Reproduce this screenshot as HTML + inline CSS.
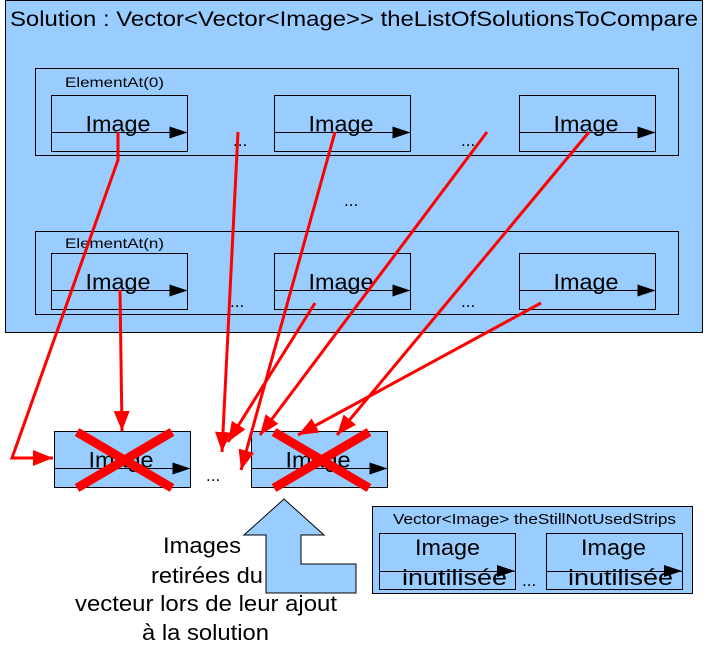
<!DOCTYPE html>
<html><head><meta charset="utf-8"><style>body{margin:0;background:#fff}svg{display:block}text{font-family:"Liberation Sans",sans-serif;fill:#000}</style></head><body>
<svg width="707" height="655" viewBox="0 0 707 655" xmlns="http://www.w3.org/2000/svg">
<defs>
<marker id="rd" markerWidth="22" markerHeight="16" refX="20" refY="8" orient="auto" markerUnits="userSpaceOnUse"><path d="M0,0 L20,8 L0,16 z" fill="#f00"/></marker>
<g id="img">
<rect x="0" y="0" width="136" height="56" fill="#99ccff" stroke="#000" stroke-width="1"/>
<line x1="0" y1="37" x2="136" y2="37" stroke="#000"/>
<path d="M118,31 L136,37 L118,43 z" fill="#000"/>
<text x="34" y="36" font-size="22" textLength="65" lengthAdjust="spacingAndGlyphs">Image</text>
</g>
</defs>
<rect x="5.5" y="0.5" width="697" height="332" fill="#99ccff" stroke="#000"/>
<text x="10" y="26" font-size="21" textLength="688" lengthAdjust="spacingAndGlyphs">Solution : Vector&lt;Vector&lt;Image&gt;&gt; theListOfSolutionsToCompare</text>
<rect x="35.5" y="68.5" width="643" height="87" fill="none" stroke="#000"/>
<text x="65" y="87" font-size="14" textLength="99" lengthAdjust="spacingAndGlyphs">ElementAt(0)</text>
<use href="#img" x="51.5" y="95.5"/><use href="#img" x="274.5" y="95.5"/><use href="#img" x="519.5" y="95.5"/>
<text x="233" y="146" font-size="17">...</text><text x="461" y="146" font-size="17">...</text>
<text x="344" y="206" font-size="17">...</text>
<rect x="35.5" y="231.5" width="643" height="83" fill="none" stroke="#000"/>
<text x="65" y="248" font-size="14" textLength="99" lengthAdjust="spacingAndGlyphs">ElementAt(n)</text>
<use href="#img" x="51.5" y="253.5"/><use href="#img" x="274.5" y="253.5"/><use href="#img" x="519.5" y="253.5"/>
<text x="230" y="307" font-size="17">...</text><text x="461" y="307" font-size="17">...</text>

<use href="#img" x="54.5" y="431.5"/><use href="#img" x="251.5" y="431.5"/>
<text x="206" y="481" font-size="17">...</text>
<g stroke="#f00" stroke-width="9">
<line x1="77" y1="432" x2="172" y2="488"/><line x1="172" y1="432" x2="77" y2="488"/>
<line x1="274" y1="432" x2="369" y2="488"/><line x1="369" y1="432" x2="274" y2="488"/>
</g>
<g stroke="#f00" stroke-width="3" fill="none" marker-end="url(#rd)">
<polyline points="118,132 118,160 12,458 53,458"/>
<line x1="120" y1="290" x2="122" y2="431"/>
<line x1="238" y1="132" x2="222" y2="452"/>
<line x1="335" y1="132" x2="241" y2="470"/>
<line x1="315" y1="303" x2="228" y2="442"/>
<line x1="487" y1="132" x2="260" y2="435"/>
<line x1="541" y1="303" x2="298" y2="435"/>
<line x1="589" y1="132" x2="337" y2="435"/>
</g>

<polygon points="284,499 324,535 301,535 301,564 356,564 356,593 266,593 266,535 244,535" fill="#99ccff" stroke="#000"/>
<g font-size="22">
<text x="163" y="553" textLength="78" lengthAdjust="spacingAndGlyphs">Images</text>
<text x="151" y="583" textLength="112" lengthAdjust="spacingAndGlyphs">retirées du</text>
<text x="75" y="611" textLength="262" lengthAdjust="spacingAndGlyphs">vecteur lors de leur ajout</text>
<text x="142" y="640" textLength="127" lengthAdjust="spacingAndGlyphs">à la solution</text>
</g>

<rect x="372.5" y="506.5" width="320" height="87" fill="#99ccff" stroke="#000"/>
<text x="393" y="524" font-size="15" textLength="283" lengthAdjust="spacingAndGlyphs">Vector&lt;Image&gt; theStillNotUsedStrips</text>
<g>
<rect x="379.5" y="533.5" width="136" height="56" fill="none" stroke="#000"/>
<line x1="379.5" y1="571.5" x2="515.5" y2="571.5" stroke="#000"/>
<path d="M497,565 L515,571 L497,577 z" fill="#000"/>
<text x="415" y="555" font-size="22" textLength="65" lengthAdjust="spacingAndGlyphs">Image</text>
<text x="402" y="585" font-size="22" textLength="105" lengthAdjust="spacingAndGlyphs">inutilisée</text>
<rect x="546.5" y="533.5" width="136" height="56" fill="none" stroke="#000"/>
<line x1="546.5" y1="571.5" x2="682.5" y2="571.5" stroke="#000"/>
<path d="M664,565 L682,571 L664,577 z" fill="#000"/>
<text x="581" y="555" font-size="22" textLength="65" lengthAdjust="spacingAndGlyphs">Image</text>
<text x="568" y="585" font-size="22" textLength="105" lengthAdjust="spacingAndGlyphs">inutilisée</text>
<text x="522" y="586" font-size="17">...</text>
</g>
</svg>
</body></html>
